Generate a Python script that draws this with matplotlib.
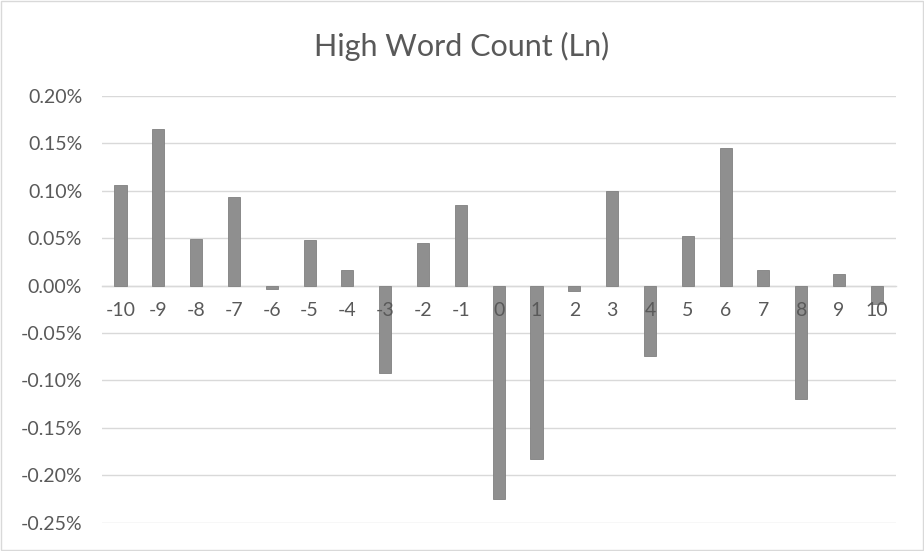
import matplotlib
matplotlib.use("Agg")
import matplotlib.pyplot as plt
from matplotlib.ticker import PercentFormatter, MultipleLocator
from matplotlib.patches import Rectangle

# Data (values in percent)
lags = ['-10', '-9', '-8', '-7', '-6', '-5', '-4', '-3', '-2', '-1', '0',
        '1', '2', '3', '4', '5', '6', '7', '8', '9', '10']
values = [0.1066, 0.1654, 0.0490, 0.0939, -0.0040, 0.0476, 0.0162, -0.0923,
          0.0448, 0.0850, -0.2253, -0.1824, -0.0053, 0.0995, -0.0740, 0.0522,
          0.1453, 0.0162, -0.1197, 0.0120, -0.0194]

plt.rcParams.update({
    "font.family": ["Lato", "DejaVu Sans"],
    "axes.unicode_minus": False,
})

text_color = '#595959'
grid_color = '#d9d9d9'

fig = plt.figure(figsize=(9.24, 5.51), dpi=100)
ax = fig.add_axes([0.110, 0.0514, 0.8594, 0.7744])

x = list(range(len(lags)))
ax.bar(x, values, width=0.32, color='#8f8f8f', edgecolor='#808080',
       linewidth=0.6, zorder=1)

ax.set_xlim(-0.5, len(lags) - 0.5)
ax.set_ylim(-0.25, 0.20)
ax.yaxis.set_major_locator(MultipleLocator(0.05))
ax.yaxis.set_major_formatter(PercentFormatter(xmax=100, decimals=2))

ax.set_xticks(x)
ax.set_xticklabels(lags)

# gridlines behind the bars, tick labels on top (like Excel)
ax.set_axisbelow(False)
for yv in ax.get_yticks():
    ax.axhline(yv, color=grid_color, linewidth=1.0, zorder=0.5)
for side in ['top', 'right', 'left']:
    ax.spines[side].set_visible(False)
ax.spines['bottom'].set_position(('data', 0))
ax.spines['bottom'].set_color(grid_color)
ax.spines['bottom'].set_linewidth(1.0)
ax.spines['bottom'].set_zorder(0.5)

ax.tick_params(axis='x', length=0, pad=12, labelsize=14, labelcolor=text_color)
ax.tick_params(axis='y', length=0, pad=14, labelsize=14, labelcolor=text_color)

fig.text(0.5, 0.9165, 'High Word Count (Ln)', ha='center', va='center',
         fontsize=22, color=text_color)

# chart border
fig.patches.append(Rectangle((0.001, 0.001), 0.998, 0.998, transform=fig.transFigure,
                             fill=False, edgecolor=grid_color, linewidth=1.0))

fig.savefig('out.png', dpi=100)
